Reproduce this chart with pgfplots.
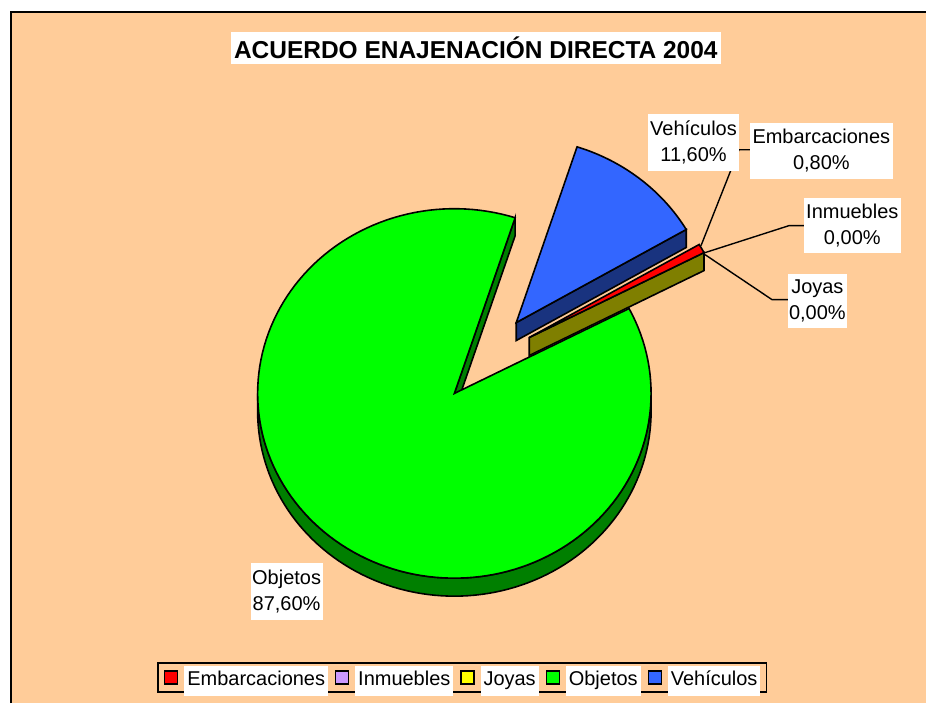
\documentclass[border=0pt]{standalone}
\usepackage{fontspec}
\setmainfont{Liberation Sans}
\usepackage{pgfplots}
\pgfplotsset{compat=1.18}
\definecolor{peach}{HTML}{FFCC99}
\definecolor{pgreen}{HTML}{00FF00}
\definecolor{dkgreen}{HTML}{007F00}
\definecolor{pblue}{HTML}{3366FF}
\definecolor{dkblue}{HTML}{19337F}
\definecolor{olive}{HTML}{7F7F00}
\definecolor{lilac}{HTML}{CC99FF}
\definecolor{pyellow}{HTML}{FFFF00}
\definecolor{pred}{HTML}{FF0000}
\setlength{\fboxsep}{1.5pt}
\newcommand{\lgbox}[1]{\colorbox{white}{\strut #1}}
\newcommand{\lab}{\fontsize{10}{13}\selectfont}
\begin{document}
\begin{tikzpicture}
% data (percent)
\def\vE{0.8}\def\vI{0}\def\vJ{0}\def\vO{87.6}\def\vV{11.6}
% geometry (pixels)
\def\cx{455}\def\cy{394}\def\rx{197}\def\ry{185}\def\dep{18}
\def\Sang{30.24}
\pgfmathsetmacro\aE{\Sang-3.6*\vE}
\pgfmathsetmacro\aJ{\aE-3.6*(\vI+\vJ)}
\pgfmathsetmacro\aO{\aJ-3.6*\vO}
\pgfmathsetmacro\aV{\aO-3.6*\vV}
\pgfmathsetmacro\aVa{\aV+360}
\pgfmathsetmacro\aOa{\aO+360}
% exploded apices
\def\vx{517}\def\vy{323}
\def\ex{530}\def\ey{338}
\pgfmathsetmacro\gx{\cx+\rx*cos(\aO)}
\pgfmathsetmacro\gy{\cy-\ry*sin(\aO)}
\pgfmathsetmacro\gyb{\gy+\dep}
\pgfmathsetmacro\cyb{\cy+\dep}
\pgfmathsetmacro\ox{\ex+\rx*cos(\aJ)}
\pgfmathsetmacro\oy{\ey-\ry*sin(\aJ)}
\pgfmathsetmacro\oyb{\oy+\dep}
\pgfmathsetmacro\eyb{\ey+\dep}
\pgfmathsetmacro\bx{\vx+\rx*cos(\Sang)}
\pgfmathsetmacro\by{\vy-\ry*sin(\Sang)}
\pgfmathsetmacro\byb{\by+\dep}
\pgfmathsetmacro\vyb{\vy+\dep}
\begin{axis}[
  scale only axis, width=463.5pt, height=352pt,
  xmin=0, xmax=927, ymin=0, ymax=704, y dir=reverse,
  hide axis, clip=false,
  legend columns=5,
  legend image code/.code={\draw[#1, draw=black, line width=0.6pt] (0pt,-3.25pt) rectangle (6.5pt,3.25pt);},
  legend style={at={(axis cs:463,678.5)}, anchor=center, fill=peach, draw=black,
    line width=0.8pt, inner xsep=3pt, inner ysep=1.5pt,
    nodes={inner sep=0pt}, font=\fontsize{10}{12}\selectfont,
    column sep=3pt,
    /tikz/every even column/.append style={column sep=3.5pt}},
]
% background
\fill[white] (axis cs:0,0) rectangle (axis cs:927,704);
\fill[peach] (axis cs:11,12) rectangle (axis cs:927,704);
\draw[black, line width=1.3pt] (axis cs:11,704) -- (axis cs:11,12) -- (axis cs:927,12);

% legend entries
\addlegendimage{fill=pred}\addlegendentry{\lgbox{Embarcaciones}}
\addlegendimage{fill=lilac}\addlegendentry{\lgbox{Inmuebles}}
\addlegendimage{fill=pyellow}\addlegendentry{\lgbox{Joyas}}
\addlegendimage{fill=pgreen}\addlegendentry{\lgbox{Objetos}}
\addlegendimage{fill=pblue}\addlegendentry{\lgbox{Vehículos}}

% Objetos: front outer side
\addplot[fill=dkgreen, draw=black, line width=0.8pt, domain=0:360, samples=181, variable=\t, forget plot]
  ({\cx+\rx*cos(ifthenelse(\t<181,180+\t,540-\t))},
   {\cy-\ry*sin(ifthenelse(\t<181,180+\t,540-\t))+ifthenelse(\t<181,0,\dep)}) -- cycle;
% Objetos: radial side face
\addplot[fill=dkgreen, draw=black, line width=0.8pt, forget plot]
  coordinates {(\cx,\cy) (\gx,\gy) (\gx,\gyb) (\cx,\cyb)} -- cycle;
% Objetos: top face
\addplot[fill=pgreen, draw=black, line width=0.8pt, domain=\aO:\aJ, samples=150, variable=\t, forget plot]
  ({\cx+\rx*cos(\t)},{\cy-\ry*sin(\t)}) -- (axis cs:\cx,\cy) -- cycle;

% Joyas / Inmuebles (0 %): side face
\addplot[fill=olive, draw=black, line width=0.8pt, forget plot]
  coordinates {(\ex,\ey) (\ox,\oy) (\ox,\oyb) (\ex,\eyb)} -- cycle;
% Embarcaciones: top face
\addplot[fill=pred, draw=black, line width=0.8pt, domain=\aE:\Sang, samples=5, variable=\t, forget plot]
  ({\ex+\rx*cos(\t)},{\ey-\ry*sin(\t)}) -- (axis cs:\ex,\ey) -- cycle;

% Vehiculos: side face
\addplot[fill=dkblue, draw=black, line width=0.8pt, forget plot]
  coordinates {(\vx,\vy) (\bx,\by) (\bx,\byb) (\vx,\vyb)} -- cycle;
% Vehiculos: top face
\addplot[fill=pblue, draw=black, line width=0.8pt, domain=\aVa:\aOa, samples=40, variable=\t, forget plot]
  ({\vx+\rx*cos(\t)},{\vy-\ry*sin(\t)}) -- (axis cs:\vx,\vy) -- cycle;

% leader lines
\addplot[black, line width=0.7pt, forget plot] coordinates {(702,246) (740,150) (751,150)};
\addplot[black, line width=0.7pt, forget plot] coordinates {(706,253) (790,226) (805,226)};
\addplot[black, line width=0.7pt, forget plot] coordinates {(706,255) (773,300) (789,300)};

% data labels
\node[fill=white, inner sep=0pt, minimum width=45.5pt, minimum height=28.5pt, align=center, font=\lab]
  at (axis cs:694.5,142.5) {Vehículos\\11,60\%};
\node[fill=white, inner sep=0pt, minimum width=71.5pt, minimum height=28pt, align=center, font=\lab]
  at (axis cs:822.5,151) {Embarcaciones\\0,80\%};
\node[fill=white, inner sep=0pt, minimum width=48.5pt, minimum height=27.5pt, align=center, font=\lab]
  at (axis cs:853.5,225.5) {Inmuebles\\0,00\%};
\node[fill=white, inner sep=0pt, minimum width=29.5pt, minimum height=27pt, align=center, font=\lab]
  at (axis cs:818.5,301) {Joyas\\0,00\%};
\node[fill=white, inner sep=0pt, minimum width=36pt, minimum height=28.5pt, align=center, font=\lab]
  at (axis cs:287,592.5) {Objetos\\87,60\%};

% title
\node[fill=white, inner sep=0pt, minimum width=245.5pt, minimum height=16pt,
  font=\fontsize{12.25}{14}\selectfont\bfseries]
  at (axis cs:476.5,48) {ACUERDO ENAJENACIÓN DIRECTA 2004};
\end{axis}
\end{tikzpicture}
\end{document}
